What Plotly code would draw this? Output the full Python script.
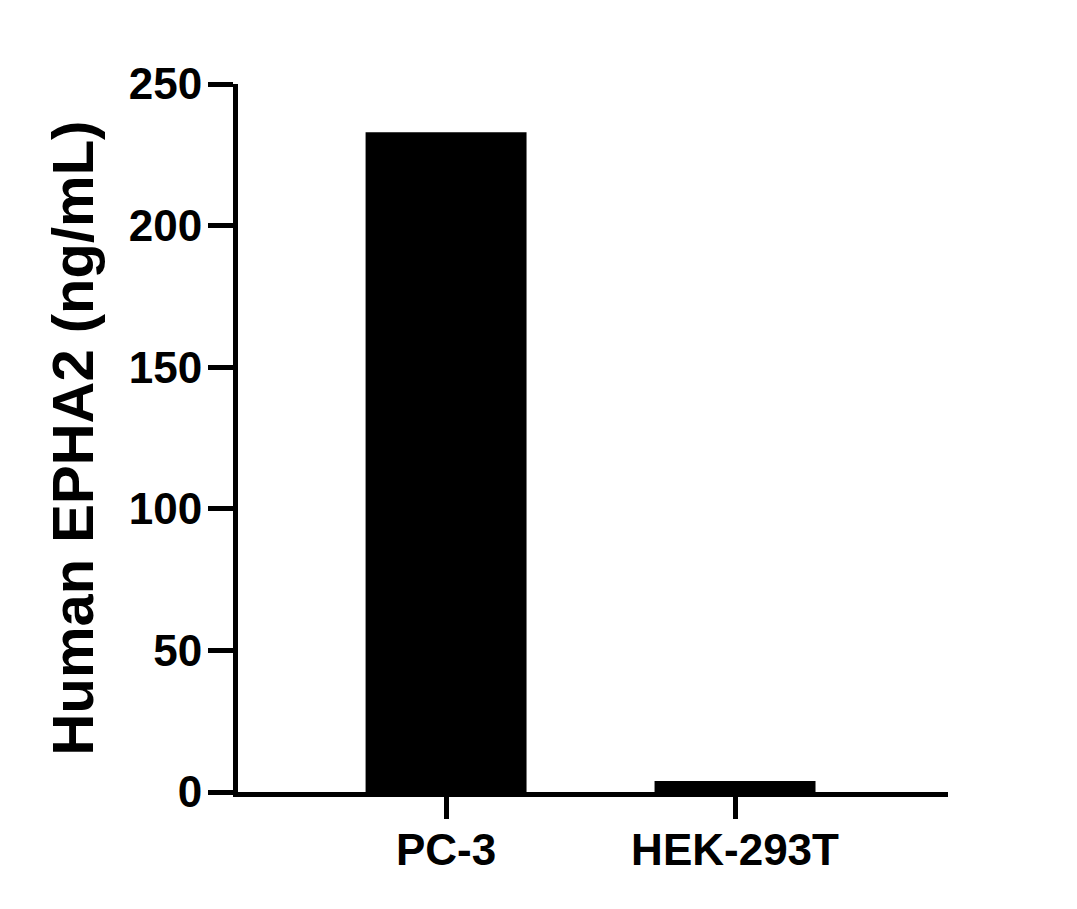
import plotly.graph_objects as go

# data
cell_lines = ["PC-3", "HEK-293T"]
epha2_ng_ml = [233.0, 3.9]
y_ticks = [0, 50, 100, 150, 200, 250]

fig = go.Figure()

fig.add_trace(go.Bar(
    x=[0, 1],
    y=epha2_ng_ml,
    width=0.557,
    marker=dict(color="black", line=dict(width=0)),
    showlegend=False
))

font_family = "Liberation Sans, Arial, sans-serif"

fig.update_layout(
    width=1077,
    height=909,
    plot_bgcolor="white",
    paper_bgcolor="white",
    margin=dict(l=230, r=137, t=76, b=125),
    font=dict(family=font_family, color="black"),
    xaxis=dict(
        range=[-0.72, 1.737],
        tickvals=[0, 1],
        ticktext=[f"<b>{c}</b>" for c in cell_lines],
        showline=True,
        linewidth=5,
        linecolor="black",
        ticks="outside",
        ticklen=22,
        tickwidth=5,
        tickcolor="black",
        showgrid=False,
        zeroline=False,
        tickfont=dict(size=44),
        ticklabelstandoff=-7,
    ),
    yaxis=dict(
        range=[0, 250],
        tickvals=y_ticks,
        ticktext=[f"<b>{v}</b>" for v in y_ticks],
        showline=True,
        linewidth=5,
        linecolor="black",
        ticks="outside",
        ticklen=25,
        tickwidth=5,
        tickcolor="black",
        showgrid=False,
        zeroline=False,
        tickfont=dict(size=44),
        ticklabelstandoff=-3,
        title=dict(text="<b>Human EPHA2 (ng/mL)</b>", font=dict(size=58), standoff=18),
    ),
)

fig.write_html("out.html")
